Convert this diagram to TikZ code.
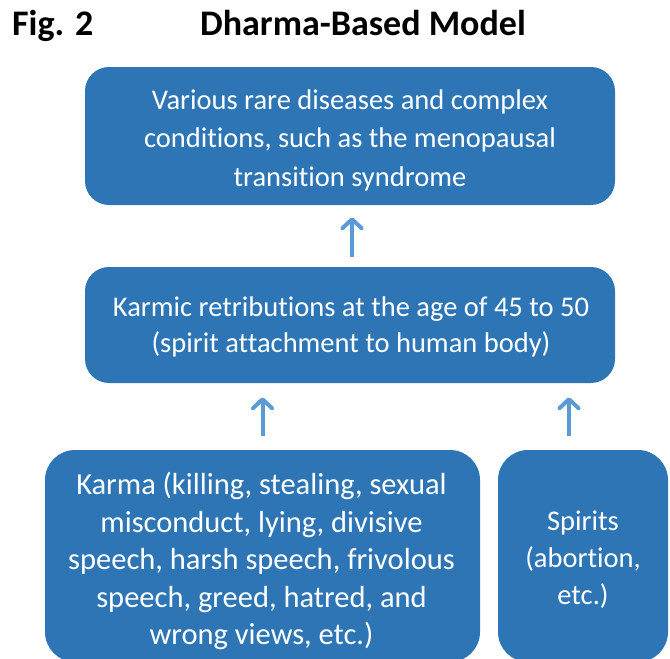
\documentclass[tikz,border=0pt]{standalone}
\usepackage{fontspec}
\setmainfont{Carlito}[Ligatures=NoCommon]
\usetikzlibrary{arrows.meta,calc}
\definecolor{boxblue}{RGB}{46,117,182}
\definecolor{arrblue}{RGB}{91,155,213}
\tikzset{
  box/.style={fill=boxblue, draw=none, rounded corners=24pt, inner sep=0pt},
  bigbox/.style={fill=boxblue, draw=none, rounded corners=30pt, inner sep=0pt},
  txt/.style={text=white, align=center, inner sep=0pt},
  arr/.style={draw=arrblue, line width=4pt,
    -{Straight Barb[length=9pt,width=19pt,line width=4pt,round]}},
  ttl/.style={anchor=base west, inner sep=0pt, font=\fontsize{36}{40}\selectfont\bfseries}
}
\begin{document}
\begin{tikzpicture}[x=1pt,y=-1pt]
\useasboundingbox (0,0) rectangle (670,659);
\clip (0,0) rectangle (670,659);
\node[ttl] (fig) at (12,35) {Fig. 2};
\node[ttl] (title) at (200,35) {Dharma-Based Model};
\node[box, minimum width=530pt, minimum height=138pt] (top) at (350,136) {};
\node[txt, font=\fontsize{28.5}{38.5}\selectfont] (toptxt) at (350,140) {Various rare diseases and complex\\conditions, such as the menopausal\\transition syndrome};
\node[box, minimum width=530pt, minimum height=116pt] (mid) at (350,325) {};
\node[txt, font=\fontsize{28.5}{36.5}\selectfont] (midtxt) at (351,327) {Karmic retributions at the age of 45 to 50\\(spirit attachment to human body)};
\node[bigbox, minimum width=435pt, minimum height=212pt] (karmabox) at (262.5,556) {};
\node[txt, font=\fontsize{30.5}{37.5}\selectfont] (karma) at (261.5,561) {Karma (killing, stealing, sexual\\misconduct, lying, divisive\\speech, harsh speech, frivolous\\speech, greed, hatred, and\\wrong views, etc.)};
\node[bigbox, minimum width=170pt, minimum height=212pt] (spiritsbox) at (583,556) {};
\node[txt, font=\fontsize{28.5}{37}\selectfont] (spirits) at (583,560) {Spirits\\(abortion,\\etc.)};
\draw[arr, shorten <=10pt, shorten >=12pt] ([xshift=2pt]mid.north) -- ([xshift=2pt]top.south);
\draw[arr, shorten <=14pt, shorten >=14pt] (karmabox.north) -- (karmabox.north |- mid.south);
\draw[arr, shorten <=14pt, shorten >=14pt] ([xshift=-14pt]spiritsbox.north) -- ([xshift=-14pt]spiritsbox.north |- mid.south);
\end{tikzpicture}
\end{document}
